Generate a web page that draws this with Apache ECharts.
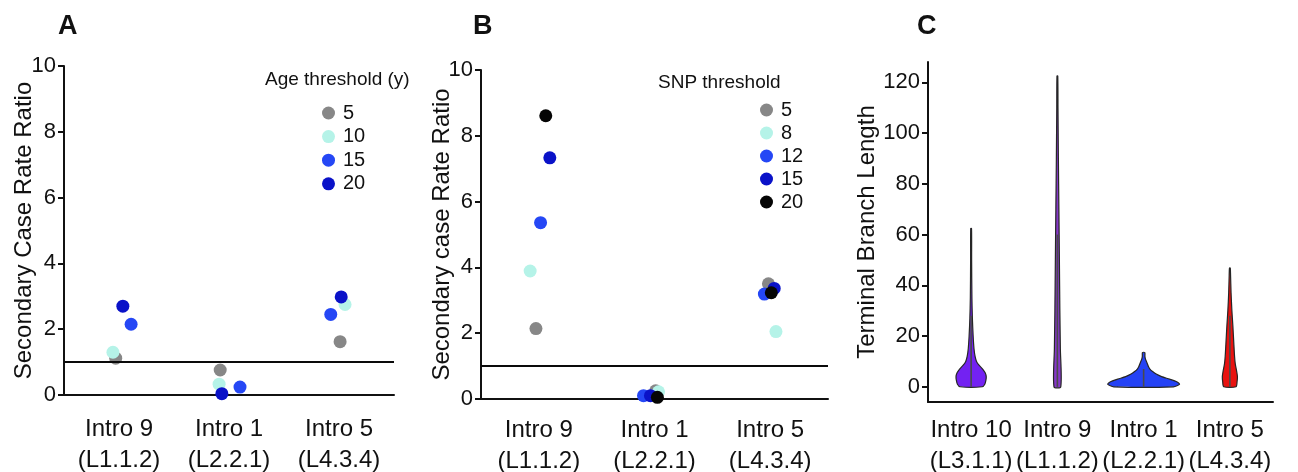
<!DOCTYPE html>
<html>
<head>
<meta charset="utf-8">
<script src="https://cdn.jsdelivr.net/npm/echarts@6/dist/echarts.min.js"></script>
<style>
html,body{margin:0;padding:0;background:#fff;}
#chart{width:1298px;height:472px;}
</style>
</head>
<body>
<div id="chart"></div>
<script>
// ---------- DATA ----------
// Panels A and B categories
const introsAB = ['Intro 9', 'Intro 1', 'Intro 5'];
const lineagesAB = ['(L1.1.2)', '(L2.2.1)', '(L4.3.4)'];

// Panel A: secondary case rate ratio by age threshold (y)
const ageThresholds = ['5', '10', '15', '20'];
const age5 = [1.12, 0.76, 1.62];
const age10 = [1.30, 0.33, 2.75];
const age15 = [2.15, 0.24, 2.45];
const age20 = [2.70, 0.04, 2.98];
// horizontal jitter of each point (category units)
const age5Jitter = [-0.03, -0.08, 0.01];
const age10Jitter = [-0.055, -0.09, 0.055];
const age15Jitter = [0.11, 0.10, -0.075];
const age20Jitter = [0.035, -0.065, 0.02];

// Panel B: secondary case rate ratio by SNP threshold
const snpThresholds = ['5', '8', '12', '15', '20'];
const snp5 = [2.14, 0.25, 3.50];
const snp8 = [3.89, 0.22, 2.05];
const snp12 = [5.36, 0.10, 3.19];
const snp15 = [7.33, 0.10, 3.36];
const snp20 = [8.61, 0.05, 3.23];
const snp5Jitter = [-0.025, 0.01, -0.015];
const snp8Jitter = [-0.075, 0.035, 0.05];
const snp12Jitter = [0.015, -0.095, -0.05];
const snp15Jitter = [0.095, -0.035, 0.035];
const snp20Jitter = [0.06, 0.025, 0.01];

const refRatio = 1;

// Panel C: terminal branch length violins ([value, relative density])
const introsC = ['Intro 10', 'Intro 9', 'Intro 1', 'Intro 5'];
const lineagesC = ['(L3.1.1)', '(L1.1.2)', '(L2.2.1)', '(L4.3.4)'];
const intro10Violin = [[0,0.31],[1,0.38],[2.5,0.41],[4,0.42],[5.5,0.39],[7,0.32],[8.5,0.22],[10,0.15],[12,0.11],[15,0.08],[20,0.056],[27,0.035],[35,0.022],[50,0.014],[62.4,0.008]];
const intro9Violin = [[0,0.094],[15,0.083],[30,0.069],[50,0.056],[70,0.042],[90,0.028],[110,0.017],[122.5,0.008]];
const intro1Violin = [[0,0.83],[1,1],[2,0.92],[3,0.72],[4,0.5],[5,0.35],[6,0.25],[7,0.175],[8,0.133],[9,0.106],[10,0.078],[11,0.05],[12,0.036],[13.5,0.033]];
const intro5Violin = [[0,0.17],[2,0.2],[4,0.21],[6,0.19],[9,0.15],[12,0.13],[17,0.11],[24,0.083],[30,0.056],[37,0.033],[44,0.019],[46.8,0.011]];
const innerLow = [0, 0, 0, 0];
const innerHigh = [28, 60, 7, 28];
const branchTicks = [0, 20, 40, 60, 80, 100, 120];

// ---------- STYLE ----------
const FONT = 'Liberation Sans, Arial, Helvetica, sans-serif';
const INK = '#111111';
const ageColors = ['#878787', '#b5f3e8', '#2547f5', '#0a12c8'];
const snpColors = ['#878787', '#b5f3e8', '#2547f5', '#0a12c8', '#050505'];
const violinColors = ['#7322f2', '#8638c8', '#2442f5', '#e8120f'];
const violinScale = 0.417;

const ageValues = [age5, age10, age15, age20];
const ageJitters = [age5Jitter, age10Jitter, age15Jitter, age20Jitter];
const snpValues = [snp5, snp8, snp12, snp15, snp20];
const snpJitters = [snp5Jitter, snp8Jitter, snp12Jitter, snp15Jitter, snp20Jitter];
const violins = [intro10Violin, intro9Violin, intro1Violin, intro5Violin];

const axisLineStyle = { color: INK, width: 2 };
const axisTick = { length: 6, lineStyle: { color: INK, width: 2 } };
const refLine = { silent: true, symbol: 'none', label: { show: false },
  lineStyle: { color: '#0a0a0a', width: 2, type: 'solid' }, data: [{ yAxis: refRatio }] };

function catAxis(gridIndex, labels, margin) {
  return {
    type: 'category', gridIndex, data: labels,
    boundaryGap: true,
    axisLine: { show: true, onZero: false, lineStyle: axisLineStyle },
    axisTick: Object.assign({ alignWithLabel: true, interval: 0 }, axisTick),
    axisLabel: { interval: 0, color: INK, fontSize: 24, lineHeight: 31, fontFamily: FONT, margin },
    splitLine: { show: false }
  };
}
function hiddenValAxis(gridIndex) {
  return { type: 'value', gridIndex, min: -0.5, max: 2.5, show: false,
    axisLine: { onZero: false } };
}
function ratioAxis(gridIndex, name, nameGap) {
  return {
    type: 'value', gridIndex, min: 0, max: 10, interval: 2,
    name, nameLocation: 'middle', nameGap, nameMoveOverlap: false,
    nameTextStyle: { color: INK, fontSize: 24, fontFamily: FONT },
    axisLine: { show: true, onZero: false, lineStyle: axisLineStyle },
    axisTick: Object.assign({ show: true }, axisTick),
    axisLabel: { color: INK, fontSize: 22, fontFamily: FONT, margin: 8 },
    splitLine: { show: false }
  };
}

const series = [];
ageThresholds.forEach((t, k) => {
  series.push({
    name: 'Age ' + t, type: 'scatter', xAxisIndex: 1, yAxisIndex: 0,
    symbolSize: 13, itemStyle: { color: ageColors[k], opacity: 1 },
    data: ageValues[k].map((v, i) => [i + ageJitters[k][i], v]),
    markLine: k === 0 ? refLine : undefined,
    z: 3 + k
  });
});
snpThresholds.forEach((t, k) => {
  series.push({
    name: 'SNP ' + t, type: 'scatter', xAxisIndex: 3, yAxisIndex: 1,
    symbolSize: 13, itemStyle: { color: snpColors[k], opacity: 1 },
    data: snpValues[k].map((v, i) => [i + snpJitters[k][i], v]),
    markLine: k === 0 ? refLine : undefined,
    z: 3 + k
  });
});
series.push({
  type: 'custom', xAxisIndex: 4, yAxisIndex: 2,
  data: introsC.map((c, i) => [i]),
  renderItem(params, api) {
    const i = api.value(0);
    const prof = violins[i];
    const band = api.size([1, 0])[0];
    const xc = api.coord([i, 0])[0];
    const left = [], right = [];
    prof.forEach(([v, d]) => {
      const y = api.coord([i, v])[1];
      const hw = Math.max(d * band * violinScale, 0.4);
      left.push([xc - hw, y]);
      right.push([xc + hw, y]);
    });
    const pts = left.concat(right.reverse());
    const y0 = api.coord([i, innerLow[i]])[1];
    const y1 = api.coord([i, innerHigh[i]])[1];
    return {
      type: 'group',
      children: [
        { type: 'polygon', shape: { points: pts, smooth: 0.25 },
          style: { fill: violinColors[i], stroke: '#262626', lineWidth: 1.2 } },
        { type: 'line', shape: { x1: xc, y1: y0, x2: xc, y2: y1 },
          style: { stroke: '#4a4a4a', lineWidth: 1.6 } }
      ]
    };
  }
});

const option = {
  animation: false,
  backgroundColor: '#ffffff',
  textStyle: { fontFamily: FONT },
  title: [
    { text: 'A', left: 58, top: 13, padding: 0, textStyle: { fontSize: 27, fontWeight: 'bold', color: INK, fontFamily: FONT } },
    { text: 'B', left: 473, top: 13, padding: 0, textStyle: { fontSize: 27, fontWeight: 'bold', color: INK, fontFamily: FONT } },
    { text: 'C', left: 917, top: 13, padding: 0, textStyle: { fontSize: 27, fontWeight: 'bold', color: INK, fontFamily: FONT } },
    { text: 'Age threshold (y)', left: 265, top: 70, padding: 0, textStyle: { fontSize: 19, fontWeight: 'normal', color: INK, fontFamily: FONT } },
    { text: 'SNP threshold', left: 658, top: 73, padding: 0, textStyle: { fontSize: 19, fontWeight: 'normal', color: INK, fontFamily: FONT } }
  ],
  legend: [
    { data: ageThresholds.map(t => 'Age ' + t), orient: 'vertical', left: 322, top: 103, padding: 0,
      icon: 'circle', itemWidth: 13, itemHeight: 13, itemGap: 3.6, selectedMode: false,
      formatter: n => n.split(' ')[1],
      textStyle: { fontSize: 20, color: INK, fontFamily: FONT, padding: [3, 0, 0, 3] } },
    { data: snpThresholds.map(t => 'SNP ' + t), orient: 'vertical', left: 760, top: 100, padding: 0,
      icon: 'circle', itemWidth: 13, itemHeight: 13, itemGap: 3, selectedMode: false,
      formatter: n => n.split(' ')[1],
      textStyle: { fontSize: 20, color: INK, fontFamily: FONT, padding: [2, 0, 0, 3] } }
  ],
  grid: [
    { left: 64, top: 66, width: 330, height: 329, outerBoundsMode: 'none', containLabel: false },
    { left: 481, top: 70, width: 347, height: 329, outerBoundsMode: 'none', containLabel: false },
    { left: 928, top: 62, width: 345, height: 340, outerBoundsMode: 'none', containLabel: false }
  ],
  xAxis: [
    catAxis(0, introsAB.map((c, i) => c + '\n' + lineagesAB[i]), 19),
    hiddenValAxis(0),
    catAxis(1, introsAB.map((c, i) => c + '\n' + lineagesAB[i]), 16),
    hiddenValAxis(1),
    catAxis(2, introsC.map((c, i) => c + '\n' + lineagesC[i]), 13)
  ],
  yAxis: [
    ratioAxis(0, 'Secondary Case Rate Ratio', 28),
    ratioAxis(1, 'Secondary case Rate Ratio', 27),
    {
      type: 'value', gridIndex: 2, min: -6, max: 128,
      name: 'Terminal Branch Length', nameLocation: 'middle', nameGap: 49, nameMoveOverlap: false,
      nameTextStyle: { color: INK, fontSize: 24, fontFamily: FONT },
      axisLine: { show: true, onZero: false, lineStyle: axisLineStyle },
      axisTick: Object.assign({ show: true, customValues: branchTicks }, axisTick),
      axisLabel: { color: INK, fontSize: 22, fontFamily: FONT, margin: 8, customValues: branchTicks },
      splitLine: { show: false }
    }
  ],
  series
};

const chart = echarts.init(document.getElementById('chart'), null, { renderer: 'canvas' });
chart.setOption(option);
</script>
</body>
</html>
